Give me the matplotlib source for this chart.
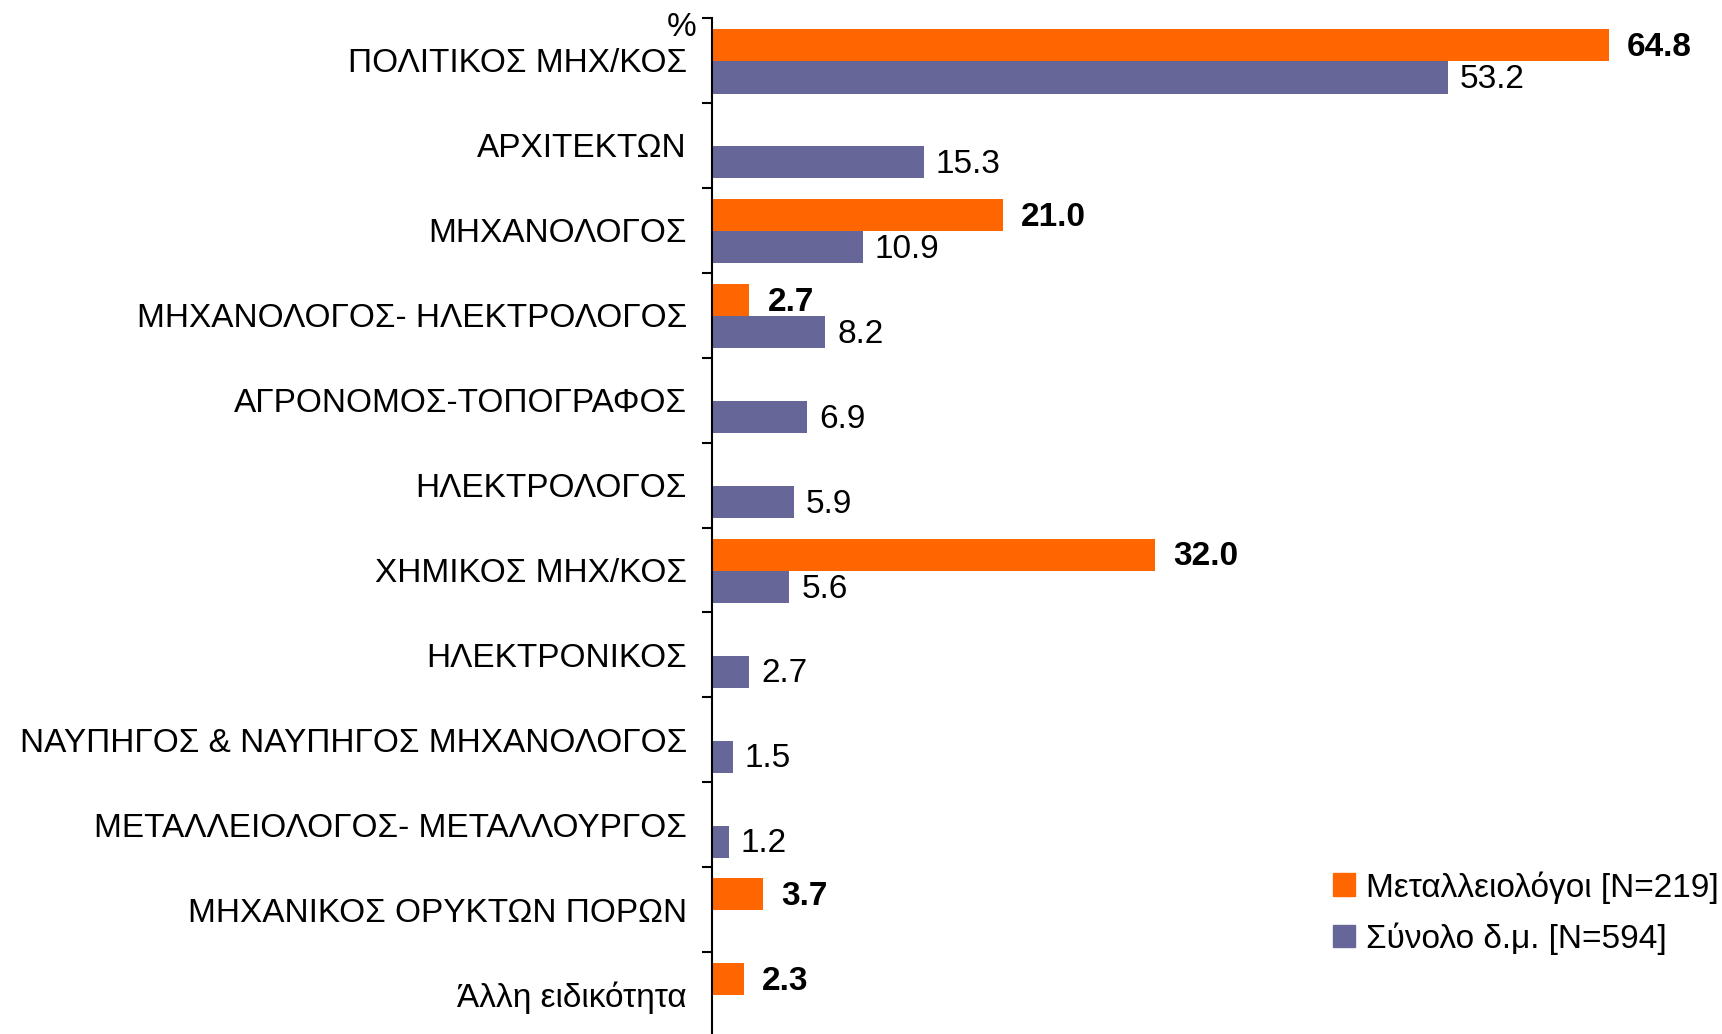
import numpy as np
import matplotlib
matplotlib.use("Agg")
import matplotlib.pyplot as plt
from matplotlib.patches import Patch

plt.rcParams['font.family'] = ['Liberation Sans', 'DejaVu Sans']

# Ειδικότητες (από πάνω προς τα κάτω)
categories = [
    "ΠΟΛΙΤΙΚΟΣ ΜΗΧ/ΚΟΣ",
    "ΑΡΧΙΤΕΚΤΩΝ",
    "ΜΗΧΑΝΟΛΟΓΟΣ",
    "ΜΗΧΑΝΟΛΟΓΟΣ- ΗΛΕΚΤΡΟΛΟΓΟΣ",
    "ΑΓΡΟΝΟΜΟΣ-ΤΟΠΟΓΡΑΦΟΣ",
    "ΗΛΕΚΤΡΟΛΟΓΟΣ",
    "ΧΗΜΙΚΟΣ ΜΗΧ/ΚΟΣ",
    "ΗΛΕΚΤΡΟΝΙΚΟΣ",
    "ΝΑΥΠΗΓΟΣ & ΝΑΥΠΗΓΟΣ ΜΗΧΑΝΟΛΟΓΟΣ",
    "ΜΕΤΑΛΛΕΙΟΛΟΓΟΣ- ΜΕΤΑΛΛΟΥΡΓΟΣ",
    "ΜΗΧΑΝΙΚΟΣ ΟΡΥΚΤΩΝ ΠΟΡΩΝ",
    "Άλλη ειδικότητα",
]
metalleiologoi = [64.8, None, 21.0, 2.7, None, None, 32.0, None, None, None, 3.7, 2.3]
synolo = [53.2, 15.3, 10.9, 8.2, 6.9, 5.9, 5.6, 2.7, 1.5, 1.2, None, None]

labels = ["Μεταλλειολόγοι [N=219]", "Σύνολο δ.μ. [N=594]"]
c_orange = "#FF6600"
c_purple = "#666699"

W, H = 1722, 1034
fig = plt.figure(figsize=(W / 100, H / 100), dpi=100)
ax = fig.add_axes([712 / W, -3 / H, 1010 / W, 1019 / H])

y = np.arange(len(categories))
h = 0.38
for i, (a, b) in enumerate(zip(metalleiologoi, synolo)):
    if a is not None:
        ax.barh(i - 0.18, a, height=h, color=c_orange)
        ax.annotate(f"{a:.1f}", (a, i - 0.18), xytext=(13, -1.5), textcoords="offset points",
                    va="center", ha="left", fontsize=24, fontweight="bold")
    if b is not None:
        ax.barh(i + 0.2, b, height=h, color=c_purple)
        ax.annotate(f"{b:.1f}", (b, i + 0.2), xytext=(8.6, -1.5), textcoords="offset points",
                    va="center", ha="left", fontsize=24)

ax.set_xlim(0, 73)
ax.set_ylim(len(categories) - 0.5, -0.5)

ax.set_yticks(y)
ax.set_yticklabels(categories, fontsize=24)
ax.tick_params(axis="y", which="major", length=0, pad=18)
ax.set_yticks(np.arange(len(categories) + 1) - 0.5, minor=True)
ax.tick_params(axis="y", which="minor", length=7.2, width=1.5, direction="out")
ax.set_xticks([])

for s in ["top", "right", "bottom"]:
    ax.spines[s].set_visible(False)
ax.spines["left"].set_linewidth(1.5)

fig.text(697 / W, 1 - 28 / H, "%", ha="right", va="center", fontsize=24)

handles = [Patch(color=c_orange), Patch(color=c_purple)]
fig.legend(handles, labels, loc="upper left", bbox_to_anchor=(1333 / W, 1 - 871 / H),
           frameon=False, fontsize=24, handlelength=0.67, handleheight=0.67,
           handletextpad=0.33, labelspacing=0.56, borderpad=0, borderaxespad=0)

fig.savefig("out.png", dpi=100)
